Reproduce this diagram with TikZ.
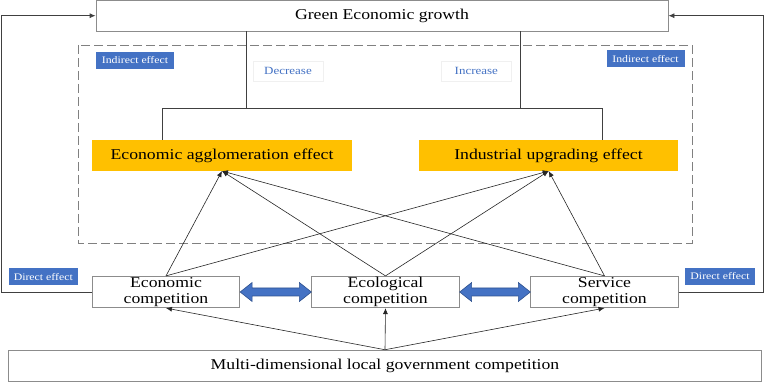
\documentclass[tikz,border=0pt]{standalone}
\usepackage{fontspec}
\setmainfont[FakeStretch=1.18]{Liberation Serif}
\usetikzlibrary{arrows.meta,calc}
\definecolor{tagblue}{HTML}{4472C4}
\definecolor{darrow}{HTML}{4472C4}
\definecolor{darrowb}{HTML}{2F528F}
\definecolor{ygold}{HTML}{FFC000}
\definecolor{linegray}{HTML}{404040}
\definecolor{boxgray}{HTML}{8C8C8C}
\begin{document}
\begin{tikzpicture}[x=1pt,y=-1pt,
  plainbox/.style={draw=boxgray,line width=0.8pt,fill=white,inner sep=0pt,align=center,font=\fontsize{15}{15.5}\selectfont},
  yellowbox/.style={fill=ygold,inner sep=0pt,minimum width=259.5pt,minimum height=30.7pt,font=\fontsize{15}{16}\selectfont},
  tag/.style={fill=tagblue,text=white,inner sep=0pt,minimum height=17pt,font=\fontsize{10}{11}\selectfont},
  trend/.style={draw=black!6,line width=0.6pt,fill=white,inner sep=0pt,minimum width=70pt,minimum height=20pt,text=tagblue,font=\fontsize{11}{12}\selectfont},
  conn/.style={draw=linegray,line width=0.8pt},
  arr/.style={draw=black!85,line width=0.6pt,-{Latex[length=6pt,width=5pt]}},
  dblarr/.style={fill=darrow,draw=darrowb,line width=0.6pt,line join=miter}
]
\useasboundingbox (0,0) rectangle (764,382);
% main boxes
\node[plainbox,minimum width=572pt,minimum height=30.5pt] (gr) at (382,15.7) {Green Economic growth};
\draw[draw=black!50,line width=0.8pt,dash pattern=on 9pt off 4pt] (78,45) rectangle (692,243);
\node[tag,minimum width=78pt] (ind1) at (135,60.3) {Indirect effect};
\node[tag,minimum width=78pt] (ind2) at (645.5,59) {Indirect effect};
\node[trend] (dec) at (288,71) {Decrease};
\node[trend] (inc) at (476.3,71) {Increase};
\node[yellowbox] (ye1) at (222,155.5) {Economic agglomeration effect};
\node[yellowbox] (ye2) at (548.5,155.5) {Industrial upgrading effect};
\node[plainbox,minimum width=147.5pt,minimum height=31.4pt] (ec) at (166,292) {Economic\\competition};
\node[plainbox,minimum width=147.5pt,minimum height=31.4pt] (eco) at (385.5,292) {Ecological\\competition};
\node[plainbox,minimum width=147.5pt,minimum height=31.4pt] (sc) at (604.5,292) {Service\\competition};
\node[plainbox,minimum width=753.7pt,minimum height=31.7pt] (mb) at (385,366) {Multi-dimensional local government competition};
\node[tag,minimum width=69pt] (dir1) at (43.3,276.7) {Direct effect};
\node[tag,minimum width=70pt] (dir2) at (720,276.5) {Direct effect};
% tree connectors
\coordinate (t1) at (246,108);
\coordinate (t2) at (520.7,108);
\coordinate (h1) at (162,108);
\coordinate (h2) at (602,108);
\draw[conn] (gr.south -| t1) -- (t1);
\draw[conn] (gr.south -| t2) -- (t2);
\draw[conn] (ye1.north -| h1) -- (h1) -- (h2) -- (ye2.north -| h2);
% arrows to effects
\coordinate (p1) at (222,171);
\coordinate (p2) at (548.7,171);
\foreach \s in {ec,eco,sc}{
  \draw[arr] (\s.north) -- (ye1.south -| p1);
  \draw[arr] (\s.north) -- (ye2.south -| p2);
}
% arrows from bottom
\draw[arr] (mb.north) -- (ec.south);
\draw[arr] (mb.north) -- (eco.south);
\draw[arr] (mb.north) -- (sc.south);
% feedback arrows
\coordinate (lc) at (1,15.7);
\coordinate (rc) at (763,15.7);
\draw[conn,-{Latex[length=6pt,width=5pt]}] (ec.west) -| (lc) -- (gr.west);
\draw[conn,-{Latex[length=6pt,width=5pt]}] (sc.east) -| (rc) -- (gr.east);
% double arrows
\foreach \a/\b in {ec/eco,eco/sc}{
  \filldraw[dblarr] (\a.east) -- ++(12,-9.5) -- ++(0,5.5) -- ($(\b.west)+(-12,-4)$) -- ++(0,-5.5) -- (\b.west) -- ++(-12,9.5) -- ++(0,-5.5) -- ($(\a.east)+(12,4)$) -- ++(0,5.5) -- cycle;
}
\end{tikzpicture}
\end{document}
